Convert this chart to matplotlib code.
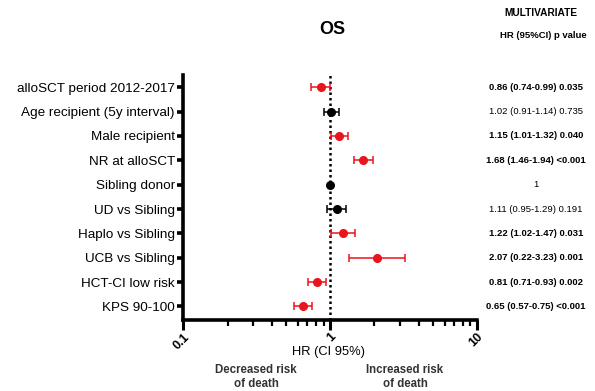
import matplotlib
matplotlib.use("Agg")
import matplotlib.pyplot as plt
import matplotlib.transforms as mtransforms
from matplotlib.ticker import LogLocator, FixedLocator, NullFormatter

plt.rcParams['font.family'] = ['Liberation Sans', 'DejaVu Sans']

# --- dane ---
labels = ["alloSCT period 2012-2017", "Age recipient (5y interval)", "Male recipient",
          "NR at alloSCT", "Sibling donor", "UD vs Sibling", "Haplo vs Sibling",
          "UCB vs Sibling", "HCT-CI low risk", "KPS 90-100"]
hr = [0.86, 1.02, 1.15, 1.68, 1.00, 1.11, 1.22, 2.07, 0.81, 0.65]
ci_lo = [0.74, 0.91, 1.01, 1.46, 1.00, 0.95, 1.02, 1.35, 0.71, 0.57]
ci_hi = [0.99, 1.14, 1.32, 1.94, 1.00, 1.29, 1.47, 3.23, 0.93, 0.75]
significant = [True, False, True, True, False, False, True, True, True, True]
hr_text = ["0.86 (0.74-0.99) 0.035", "1.02 (0.91-1.14) 0.735", "1.15 (1.01-1.32) 0.040",
           "1.68 (1.46-1.94) <0.001", "1", "1.11 (0.95-1.29) 0.191",
           "1.22 (1.02-1.47) 0.031", "2.07 (0.22-3.23) 0.001",
           "0.81 (0.71-0.93) 0.002", "0.65 (0.57-0.75) <0.001"]
xticks = [0.1, 1, 10]
xtick_labels = ["0.1", "1", "10"]

RED = "#e8141e"

fig = plt.figure(figsize=(5.95, 3.91), dpi=100)
ax = fig.add_axes([0.308, 0.182, 0.494, 0.626])

for i in range(len(labels)):
    c = RED if significant[i] else "black"
    ax.errorbar(hr[i], i, xerr=[[hr[i] - ci_lo[i]], [ci_hi[i] - hr[i]]],
                fmt="o", color=c, ecolor=c, markersize=5.5, elinewidth=1.1,
                capsize=3, capthick=1.1, zorder=3)

ax.axvline(1, color="black", linestyle=(0, (1, 1.2)), linewidth=1.8, zorder=2)

ax.set_xscale("log")
ax.set_xlim(0.1, 10)
ax.set_ylim(9.55, -0.5)
ax.set_yticks(range(len(labels)))
ax.set_yticklabels(labels, fontsize=9.7)

ax.xaxis.set_major_locator(FixedLocator(xticks))
ax.set_xticklabels(xtick_labels, rotation=45, ha="right", va="top",
                   fontsize=9, fontweight="bold", rotation_mode="anchor")
ax.xaxis.set_minor_locator(LogLocator(base=10, subs=range(2, 10)))
ax.xaxis.set_minor_formatter(NullFormatter())

for side in ["top", "right"]:
    ax.spines[side].set_visible(False)
ax.spines["left"].set_linewidth(2.6)
ax.spines["bottom"].set_linewidth(2.6)
ax.tick_params(axis="y", length=4, width=2.6, pad=2)
ax.tick_params(axis="x", which="major", length=7, width=2.2, pad=1)
ax.tick_params(axis="x", which="minor", length=4, width=1.6)

# tytul i kolumna z wynikami
fig.text(332 / 595, 1 - 30 / 391, "OS", ha="center", va="center",
         fontsize=13, fontweight="bold")
fig.text(541 / 595, 1 - 13 / 391, "MULTIVARIATE", ha="center", va="center",
         fontsize=7.3, fontweight="bold")
fig.text(543 / 595, 1 - 36 / 391, "HR (95%CI) p value", ha="center", va="center",
         fontsize=6.8, fontweight="bold")

col_trans = mtransforms.blended_transform_factory(fig.transFigure, ax.transData)
for i, t in enumerate(hr_text):
    ax.text(536 / 595, i, t, transform=col_trans,
            ha="center", va="center", fontsize=6.8,
            fontweight="bold" if significant[i] else "normal")

fig.text(329 / 595, 1 - 352 / 391, "HR (CI 95%)", ha="center", va="center", fontsize=9.3)
fig.text(256 / 595, 1 - 377 / 391, "Decreased risk\nof death", ha="center", va="center",
         fontsize=8.3, fontweight="bold", color="#333333", linespacing=1.15)
fig.text(405 / 595, 1 - 377 / 391, "Increased risk\nof death", ha="center", va="center",
         fontsize=8.3, fontweight="bold", color="#333333", linespacing=1.15)

fig.savefig("out.png", dpi=100)
